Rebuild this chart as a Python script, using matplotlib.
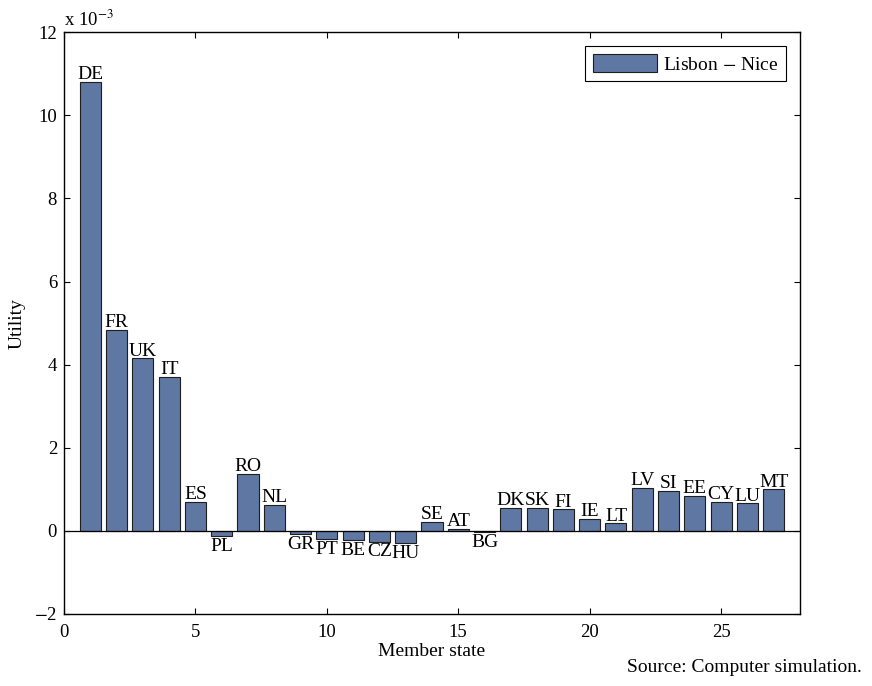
import matplotlib
matplotlib.use('Agg')
import matplotlib.pyplot as plt
import numpy as np

plt.rcParams['font.family'] = ['Liberation Serif', 'DejaVu Serif']
plt.rcParams['mathtext.fontset'] = 'stix'

# member states and utility difference (x 1e-3)
states = ['DE', 'FR', 'UK', 'IT', 'ES', 'PL', 'RO', 'NL', 'GR', 'PT', 'BE', 'CZ', 'HU', 'SE',
          'AT', 'BG', 'DK', 'SK', 'FI', 'IE', 'LT', 'LV', 'SI', 'EE', 'CY', 'LU', 'MT']
utility = [10.8, 4.83, 4.15, 3.7, 0.69, -0.13, 1.38, 0.62, -0.08, -0.2, -0.23, -0.26, -0.29,
           0.21, 0.05, -0.03, 0.55, 0.55, 0.52, 0.28, 0.18, 1.03, 0.96, 0.84, 0.70, 0.66, 1.0]
x_ticks = [0, 5, 10, 15, 20, 25]
y_ticks = [-2, 0, 2, 4, 6, 8, 10, 12]

idx = np.arange(1, len(states) + 1)

fig = plt.figure(figsize=(8.72, 6.86), dpi=100)
ax = fig.add_axes([0.0734, 0.105, 0.844, 0.848])

ax.bar(idx, utility, width=0.8, color='#5f77a3', edgecolor='#1e1e1e', linewidth=0.8,
       label='Lisbon $-$ Nice', zorder=2)
ax.axhline(0, color='black', linewidth=0.9, zorder=3)

for xi, v, s in zip(idx, utility, states):
    if v >= 0:
        ax.text(xi, v - 0.03, s, ha='center', va='bottom', fontsize=14)
    else:
        ax.text(xi, v - 0.04, s, ha='center', va='top', fontsize=14)

ax.set_xlim(0, 28)
ax.set_ylim(-2, 12)
ax.set_xticks(x_ticks)
ax.set_yticks(y_ticks)
ax.set_yticklabels(['$-$2' if t < 0 else str(t) for t in y_ticks])
ax.tick_params(direction='in', top=True, right=True, labelsize=13.5, length=4, width=0.8, pad=5)
ax.tick_params(axis='x', pad=7)
for sp in ax.spines.values():
    sp.set_linewidth(1.0)

ax.text(0.0, 1.003, 'x 10$^{-3}$', transform=ax.transAxes, ha='left', va='bottom', fontsize=13.5)
ax.set_xlabel('Member state', fontsize=14, labelpad=2)
ax.set_ylabel('Utility', fontsize=14, labelpad=6)

leg = ax.legend(loc='upper right', fontsize=14, fancybox=False, framealpha=1,
                edgecolor='black', handlelength=3.3, handleheight=1.1, handletextpad=0.3,
                borderaxespad=0.7, borderpad=0.4)
leg.get_frame().set_linewidth(0.8)

fig.text(0.988, 0.014, 'Source: Computer simulation.', ha='right', va='bottom', fontsize=14)

fig.savefig('out.png', dpi=100)
